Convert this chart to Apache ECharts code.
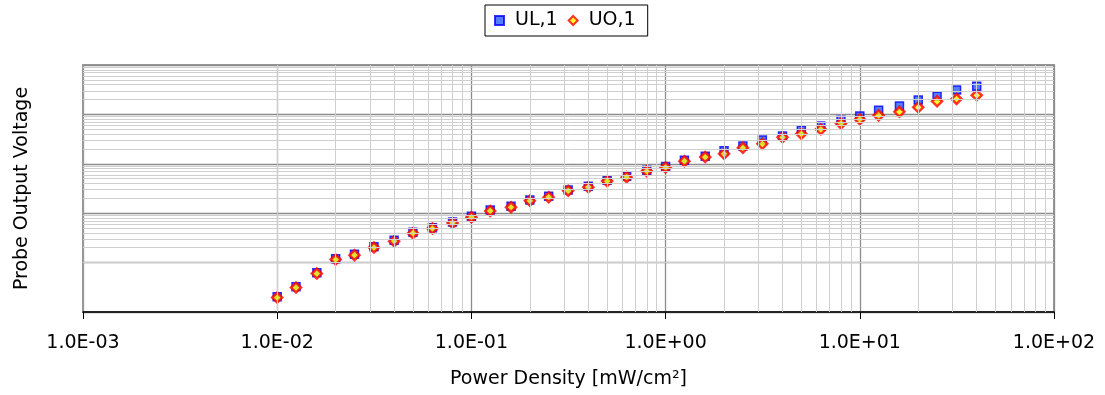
<!DOCTYPE html>
<html>
<head>
<meta charset="utf-8">
<script src="https://cdn.jsdelivr.net/npm/echarts@6/dist/echarts.min.js"></script>
<style>
  html, body { margin: 0; padding: 0; background: #fff; }
  #chart { width: 1105px; height: 395px; }
</style>
</head>
<body>
<div id="chart"></div>
<script>
// power density [mW/cm2]
const powerDensity = [0.01, 0.0125, 0.016, 0.02, 0.025, 0.0315, 0.04, 0.05, 0.063, 0.08,
  0.1, 0.125, 0.16, 0.2, 0.25, 0.315, 0.4, 0.5, 0.63, 0.8,
  1, 1.25, 1.6, 2, 2.5, 3.15, 4, 5, 6.3, 8,
  10, 12.5, 16, 20, 25, 31.5, 40];

// probe output voltage (arbitrary units)
const ulValues = [0.00204, 0.00325, 0.0062, 0.0120, 0.0147, 0.0210, 0.0282, 0.0410, 0.051, 0.0662,
  0.0865, 0.116, 0.138, 0.185, 0.220, 0.295, 0.351, 0.464, 0.559, 0.740,
  0.880, 1.18, 1.43, 1.83, 2.28, 3.02, 3.64, 4.75, 5.80, 7.57,
  9.26, 12.1, 14.8, 19.5, 23.2, 31.1, 37.0];
const uoValues = [0.00196, 0.00312, 0.0060, 0.0115, 0.0141, 0.0202, 0.0271, 0.0394, 0.049, 0.0636,
  0.0831, 0.111, 0.132, 0.178, 0.211, 0.284, 0.337, 0.446, 0.537, 0.711,
  0.845, 1.13, 1.37, 1.59, 2.11, 2.54, 3.43, 4.05, 4.98, 6.58,
  7.94, 9.56, 11.3, 13.9, 18.4, 20.5, 24.3];

const xRange = [0.001, 100];
const yRange = [0.001, 100];
const seriesNames = ["UL,1", "UO,1"];

const font = "DejaVu Sans";

// minor grid lines at 2..9 of every decade
function minorValues(range) {
  const out = [];
  for (let d = range[0]; d < range[1]; d *= 10) {
    for (let k = 2; k <= 9; k++) out.push(+(d * k).toPrecision(3));
  }
  return out;
}

function sci(v) {
  const e = Math.round(Math.log10(v));
  const sign = e < 0 ? "-" : "+";
  return "1.0E" + sign + String(Math.abs(e)).padStart(2, "0");
}

const minorLines = minorValues(xRange).map(v => ({ xAxis: v }))
  .concat(minorValues(yRange).map(v => ({ yAxis: v })));

const chart = echarts.init(document.getElementById("chart"));
const option = {
  animation: false,
  textStyle: { fontFamily: font },
  legend: {
    data: seriesNames,
    top: 5,
    left: 485,
    padding: [6, 12, 6, 9],
    borderColor: "#000",
    borderWidth: 1,
    itemGap: 10,
    itemWidth: 9,
    itemHeight: 9,
    formatter: name => " " + name,
    textStyle: { fontFamily: font, fontSize: 19, color: "#000" },
  },
  grid: {
    left: 83,
    right: 51,
    top: 65,
    bottom: 83,
    show: true,
    borderColor: "#999",
    borderWidth: 2,
  },
  xAxis: {
    type: "log",
    logBase: 10,
    min: xRange[0],
    max: xRange[1],
    name: "Power Density [mW/cm²]",
    nameLocation: "middle",
    nameGap: 58,
    nameTextStyle: { fontFamily: font, fontSize: 19, color: "#000" },
    axisLine: { lineStyle: { color: "#000", width: 1.5 } },
    axisTick: { show: true, length: 7, lineStyle: { color: "#000" } },
    axisLabel: {
      margin: 22,
      fontSize: 19,
      color: "#000",
      fontFamily: font,
      formatter: sci,
    },
    splitLine: { show: true, lineStyle: { color: "#8c8c8c", width: 1.3 } },
  },
  yAxis: {
    type: "log",
    logBase: 10,
    min: yRange[0],
    max: yRange[1],
    name: "Probe Output Voltage",
    nameLocation: "middle",
    nameGap: 51,
    nameTextStyle: { fontFamily: font, fontSize: 19, color: "#000" },
    axisLine: { show: true, lineStyle: { color: "#999", width: 2 } },
    axisTick: { show: false },
    axisLabel: { show: false },
    splitLine: { show: true, lineStyle: { color: "#8c8c8c", width: 1.3 } },
  },
  series: [
    {
      name: "minor",
      type: "scatter",
      data: [],
      z: 1,
      silent: true,
      markLine: {
        silent: true,
        symbol: ["none", "none"],
        label: { show: false },
        lineStyle: { type: "solid", color: "#cfcfcf", width: 1 },
        data: minorLines,
      },
    },
    {
      name: seriesNames[0],
      type: "scatter",
      symbol: "rect",
      symbolSize: 8,
      z: 3,
      itemStyle: { color: "#2b5cff", borderColor: "#0000ff", borderWidth: 1.5 },
      data: powerDensity.map((x, i) => [x, ulValues[i]]),
    },
    {
      name: seriesNames[1],
      type: "scatter",
      symbol: "diamond",
      symbolSize: 10,
      z: 4,
      itemStyle: { color: "#ffff00", borderColor: "#ff0000", borderWidth: 2.5 },
      data: powerDensity.map((x, i) => [x, uoValues[i]]),
    },
  ],
};
chart.setOption(option);
</script>
</body>
</html>
